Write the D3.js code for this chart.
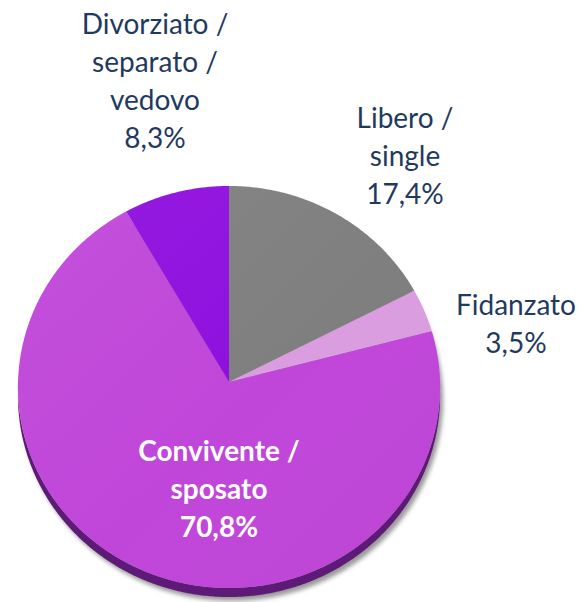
<!DOCTYPE html>
<html>
<head>
<meta charset="utf-8">
<script src="https://cdn.jsdelivr.net/npm/d3@7"></script>
<style>
  html, body { margin: 0; padding: 0; background: #ffffff; }
  svg { display: block; }
  text { font-family: Lato, "Open Sans", sans-serif; }
</style>
</head>
<body>
<svg id="chart" width="580" height="602"></svg>
<script>
// Stato civile: share of respondents (%)
const categories = ["Libero / single", "Fidanzato", "Convivente / sposato", "Divorziato / separato / vedovo"];
const values = [17.4, 3.5, 70.8, 8.3];
const colors = ["#7f7f7f", "#da9ddf", "#c046d9", "#8f0fde"];
const labelColors = ["#1f3a60", "#1f3a60", "#ffffff", "#1f3a60"];
const labelWeights = ["normal", "normal", "bold", "normal"];

// Layout: first-line baseline anchor for each label block
const labelAnchor = [[405, 128], [516, 315], [219, 461], [155, 34]];
const lineHeight = 38;
const fontSize = 28;

const W = 580, H = 602;
const cx = 229, cy = 382;          // pie centre on screen
const R = 211;                     // disc radius
const tilt = 17.8 * Math.PI / 180; // disc tilt towards the viewer
const persp = 2594;                // perspective distance
const depth = 9;                   // visible thickness of the disc edge

const itFormat = d3.formatLocale({ decimal: ",", thousands: ".", grouping: [3], currency: ["", " €"] }).format(".1f");

const svg = d3.select("#chart");
const defs = svg.append("defs");

const blur = defs.append("filter").attr("id", "shadowBlur")
  .attr("x", "-10%").attr("y", "-10%").attr("width", "120%").attr("height", "120%");
blur.append("feGaussianBlur").attr("stdDeviation", 2.2);

const shade = defs.append("linearGradient").attr("id", "shade")
  .attr("x1", "0").attr("y1", "0").attr("x2", "1").attr("y2", "1");
shade.append("stop").attr("offset", "0").attr("stop-color", "#ffffff").attr("stop-opacity", 0.06);
shade.append("stop").attr("offset", "0.55").attr("stop-color", "#ffffff").attr("stop-opacity", 0);
shade.append("stop").attr("offset", "1").attr("stop-color", "#000000").attr("stop-opacity", 0.04);

// Project a point on the tilted disc (angle measured clockwise from 12 o'clock)
function project(angle, r, dy = 0) {
  const x = r * Math.sin(angle);
  const y = -r * Math.cos(angle);
  const yr = y * Math.cos(tilt);
  const z = y * Math.sin(tilt);
  const s = persp / (persp - z);
  return [cx + x * s, cy + yr * s + dy];
}

function rim(a0, a1, dy = 0) {
  const n = Math.max(2, Math.ceil(Math.abs(a1 - a0) / (Math.PI / 360)));
  return d3.range(n + 1).map(i => project(a0 + (a1 - a0) * i / n, R, dy));
}

const line = d3.line();

const pie = d3.pie().sort(null).value(d => d)
  .startAngle(0).endAngle(2 * Math.PI);
const arcs = pie(values);

// Silhouette of the whole disc for the drop shadow
const outline = rim(0, 2 * Math.PI).concat(rim(2 * Math.PI, 0, depth));
svg.append("path")
  .attr("d", line(rim(0, 2 * Math.PI, depth)) + "Z")
  .attr("transform", "translate(3,4)")
  .attr("fill", "#4a4a4a")
  .attr("opacity", 0.55)
  .attr("filter", "url(#shadowBlur)");

// Disc edge along the front half
const front = rim(Math.PI / 2, 3 * Math.PI / 2).concat(rim(3 * Math.PI / 2, Math.PI / 2, depth));
svg.append("path")
  .attr("d", line(front) + "Z")
  .attr("fill", "#5d1a76");

// Slices on the top face
svg.append("g").selectAll("path")
  .data(arcs)
  .join("path")
  .attr("d", d => line([[cx, cy]].concat(rim(d.startAngle, d.endAngle))) + "Z")
  .attr("fill", (d, i) => colors[i]);

svg.append("path")
  .attr("d", line(rim(0, 2 * Math.PI)) + "Z")
  .attr("fill", "url(#shade)");

// Labels
const labels = svg.append("g");
arcs.forEach((d, i) => {
  const parts = categories[i].split(" / ");
  const lines = parts.map((p, k) => k < parts.length - 1 ? p + " /" : p);
  lines.push(itFormat(values[i]) + "%");
  const t = labels.append("text")
    .attr("text-anchor", "middle")
    .attr("font-size", fontSize)
    .attr("font-weight", labelWeights[i])
    .attr("fill", labelColors[i]);
  lines.forEach((s, k) => {
    t.append("tspan")
      .attr("x", labelAnchor[i][0])
      .attr("y", labelAnchor[i][1] + k * lineHeight)
      .text(s);
  });
});
</script>
</body>
</html>
